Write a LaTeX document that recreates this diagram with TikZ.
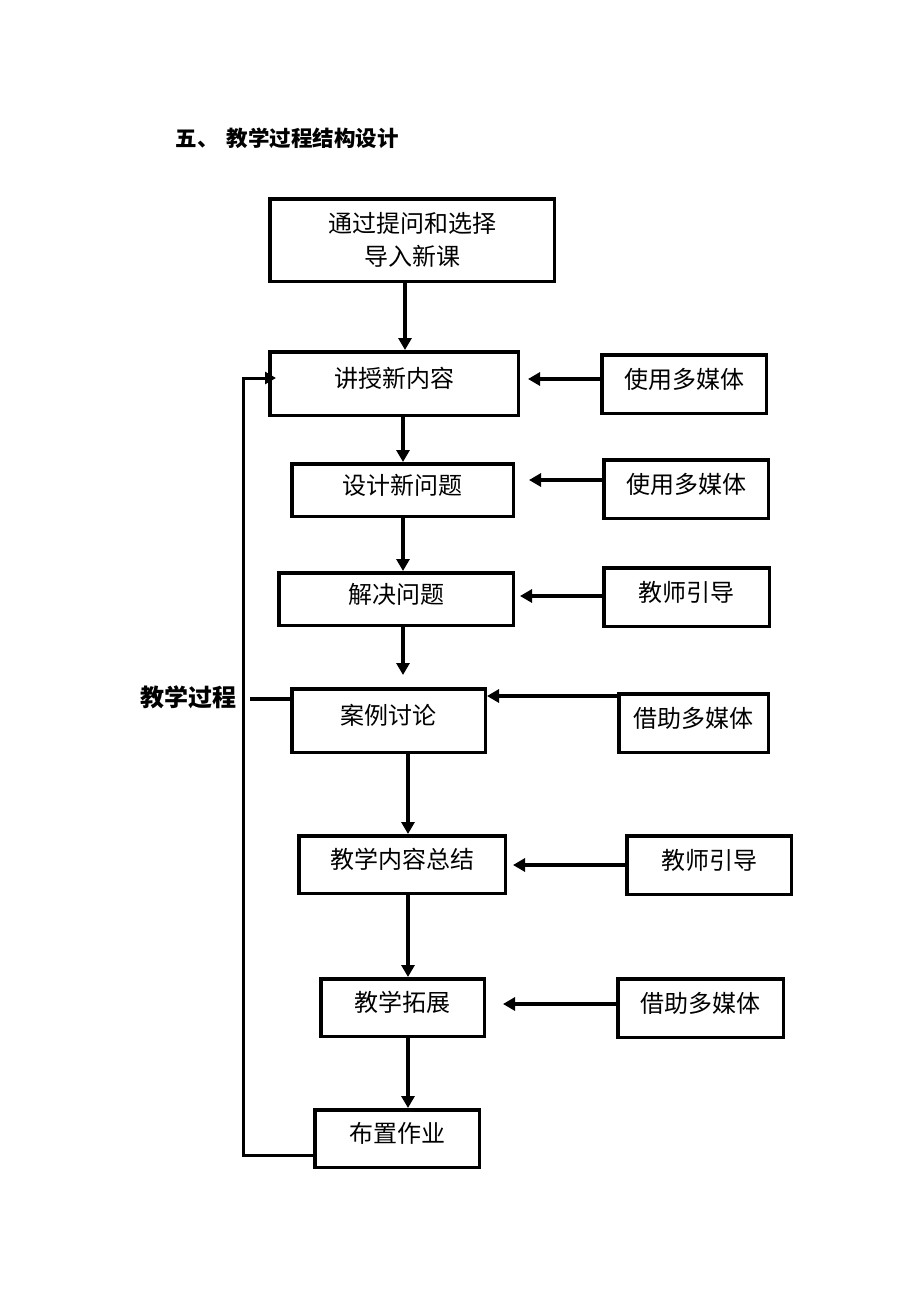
\documentclass[tikz,border=0pt]{standalone}
\usepackage{fontspec}
\setmainfont{Noto Sans CJK SC}
\usetikzlibrary{arrows.meta}
\tikzset{box/.style={draw,line width=3.5pt,inner sep=0pt,
                     font=\fontsize{24}{33}\selectfont}}
\tikzset{boxup/.style={box,text height=21pt,text depth=13pt}}
\tikzset{arr/.style={line width=4pt,-{Triangle[length=12pt,width=13pt]}}}
\tikzset{back/.style={line width=3pt,-{Triangle[length=11pt,width=12pt]}}}
\begin{document}
\begin{tikzpicture}[x=1pt,y=-1pt]
    \useasboundingbox (0,0) rectangle (920,1302);

    % title
    \node[anchor=west,font=\fontsize{21.5}{26}\selectfont\bfseries] (title)
         at (172,138) {五、\hspace{8pt}教学过程结构设计};

    % lesson start
    \node[box,align=center,minimum width=284.5pt,minimum height=82.5pt]
         (intro) at (412,240) {通过提问和选择\\导入新课};

    % main steps
    \foreach \n/\x/\y/\w/\h/\t in {teach/394/383.5/248.5/63.5/讲授新内容,
            design/402.5/490/221.5/52.5/设计新问题,
            solve/396/599/234.5/52.5/解决问题,
            case/388.5/720.5/193.5/63.5/案例讨论,
            summary/402/864.5/206.5/57.5/教学内容总结,
            extend/402.5/1007.5/163.5/57.5/教学拓展,
            homework/397/1138.5/164.5/57.5/布置作业}{%
        \node[boxup,minimum width=\w pt,minimum height=\h pt] (\n) at (\x,\y) {\t};
    }

    % helpers on the right
    \foreach \n/\x/\y/\w/\t in {r1/684/384/164.5/使用多媒体,
            r2/686/489/164.5/使用多媒体,
            r3/686.5/597/165.5/教师引导,
            r4/693.5/723/149.5/借助多媒体,
            r5/709/865/164.5/教师引导,
            r6/700.5/1008/165.5/借助多媒体}{%
        \node[boxup,minimum width=\w pt,minimum height=58.5pt] (\n) at (\x,\y) {\t};
    }

    % flow down
    \coordinate (colA) at (405,0);
    \coordinate (colB) at (403,0);
    \coordinate (colC) at (408,0);
    \draw[arr] (intro.south -| colA) -- (teach.north -| colA);
    \draw[arr] (teach.south -| colB) -- (design.north -| colB);
    \draw[arr] (design.south -| colB) -- (solve.north -| colB);
    \draw[arr,shorten >=12pt] (solve.south -| colB) -- (case.north -| colB);
    \draw[arr] (case.south -| colC) -- (summary.north -| colC);
    \draw[arr] (summary.south -| colC) -- (extend.north -| colC);
    \draw[arr] (extend.south -| colC) -- (homework.north -| colC);

    % helper arrows
    \foreach \s/\t/\y/\g in {r1/teach/379/8, r2/design/480/14,
            r3/solve/596/5, r4/case/696/0, r5/summary/865/6, r6/extend/1004/17}{%
        \draw[arr,shorten >=\g pt] (\s.west |- 0,\y) -- (\t.east |- 0,\y);
    }

    % loop back
    \coordinate (lb) at (243,1155);
    \coordinate (lt) at (243,378);
    \draw[back,shorten >=-8pt] (homework.west |- lb) -- (lb) -- (lt) -- (teach.west |- lt);

    % label
    \node[font=\fontsize{24}{30}\selectfont\bfseries] (proc) at (188,697) {教学过程};
    \coordinate (tick) at (250,699);
    \draw[line width=3.5pt] (tick) -- (case.west |- tick);
\end{tikzpicture}
\end{document}
